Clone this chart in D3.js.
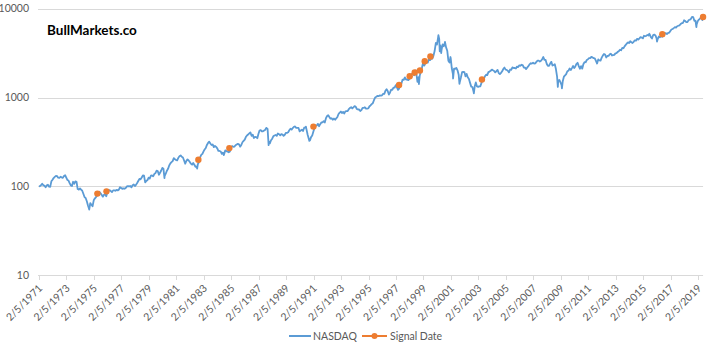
<!DOCTYPE html>
<html><head><meta charset="utf-8">
<script src="https://cdn.jsdelivr.net/npm/d3@7"></script>
<style>body{margin:0;background:#fff} text{font-family:Lato,"Open Sans",sans-serif}</style>
</head><body><svg id="c" width="720" height="346"></svg>
<script>
// ---- data ----
const years = d3.range(1971, 2020);
// NASDAQ Composite approximate month-end closes (Jan..Dec), read/estimated
const monthlyCloses = [
  [null,100.6,103.5,107.1,103.5,101.9,98.0,103.0,104.5,99.4,99.0,114.1],
  [118.9,124.3,128.1,131.3,130.5,125.5,124.6,128.5,126.6,124.9,131.3,133.7],
  [125.9,118.4,116.4,108.9,102.6,100.9,112.8,107.2,113.8,112.6,93.5,92.2],
  [95.0,92.3,89.5,82.8,75.9,74.1,68.0,60.9,55.7,64.9,62.3,59.8],
  [69.8,73.0,75.7,79.0,83.1,87.0,83.8,80.4,76.7,80.5,81.8,77.6],
  [87.1,90.3,90.6,88.7,86.3,90.3,90.4,89.4,91.3,90.3,92.0,97.9],
  [96.0,94.0,95.2,94.1,96.0,100.1,101.0,100.0,101.2,97.5,103.1,105.1],
  [101.0,104.1,109.2,115.2,121.8,120.3,126.3,133.0,132.1,111.1,115.2,117.9],
  [125.8,122.3,132.0,133.0,130.0,137.9,141.3,150.4,149.0,135.5,142.3,151.1],
  [161.8,158.0,131.0,139.0,150.4,157.8,171.8,181.5,187.8,192.8,208.2,202.3],
  [197.8,197.0,210.2,218.3,223.5,215.8,211.6,196.0,180.0,193.8,201.4,195.8],
  [188.4,180.4,175.6,183.6,175.3,166.4,167.4,177.7,187.7,212.6,226.3,232.4],
  [248.3,260.7,270.8,293.1,308.7,318.7,303.9,292.4,296.6,277.1,286.1,278.6],
  [268.4,250.8,250.8,247.4,232.8,239.7,230.8,254.6,249.9,247.0,242.5,247.4],
  [278.7,284.2,279.2,280.6,290.8,296.2,301.3,297.7,280.3,292.5,314.0,324.9],
  [335.8,359.5,374.7,383.2,394.9,405.5,371.3,382.9,350.7,360.8,359.6,348.8],
  [392.1,424.9,430.1,417.8,416.5,424.7,434.9,454.5,444.3,323.3,305.2,330.5],
  [344.7,366.9,374.6,379.2,370.3,394.7,387.3,376.6,387.7,382.5,371.5,381.4],
  [401.3,399.7,406.7,428.2,446.2,435.3,453.8,469.3,472.9,455.6,456.1,454.8],
  [415.8,425.8,435.5,420.1,458.0,462.3,438.2,381.2,344.5,329.8,359.1,373.8],
  [414.2,453.1,482.3,484.7,506.1,475.9,502.0,525.7,526.9,542.9,523.9,586.3],
  [620.2,633.5,603.8,578.7,585.3,563.6,580.8,563.1,583.3,605.2,652.7,676.9],
  [696.3,670.8,690.1,661.4,700.5,703.9,704.7,742.8,762.8,779.3,754.4,776.8],
  [800.5,792.5,743.5,733.8,735.2,706.0,722.2,765.6,764.3,777.5,750.3,752.0],
  [755.2,793.7,817.2,843.9,864.6,933.5,1001.2,1020.1,1043.5,1036.1,1059.2,1052.1],
  [1059.8,1100.1,1101.4,1190.5,1243.4,1185.0,1080.6,1141.5,1226.9,1221.5,1292.6,1291.0],
  [1379.9,1309.0,1221.7,1260.8,1400.3,1442.1,1593.8,1587.3,1685.7,1593.6,1600.6,1570.4],
  [1619.4,1770.5,1835.7,1868.4,1778.9,1894.7,1872.4,1499.3,1693.8,1771.4,1949.5,2192.7],
  [2505.9,2288.0,2461.4,2542.9,2470.5,2686.1,2638.5,2739.4,2746.2,2966.4,3336.2,4069.3],
  [3940.4,4696.7,4572.8,3860.7,3400.9,3966.1,3766.9,4206.4,3672.8,3369.6,2597.9,2470.5],
  [2772.7,2151.8,1840.3,2116.2,2110.5,2160.5,2027.1,1805.4,1498.8,1690.2,1930.6,1950.4],
  [1934.0,1731.5,1845.4,1688.2,1615.7,1463.2,1328.3,1314.9,1172.1,1329.8,1478.8,1335.5],
  [1320.9,1337.5,1341.2,1464.3,1595.9,1622.8,1735.0,1810.5,1786.9,1932.2,1960.3,2003.4],
  [2066.2,2029.8,1994.2,1920.2,1986.7,2047.8,1887.4,1838.1,1896.8,1974.9,2096.8,2175.4],
  [2062.4,2051.7,1999.2,1921.7,2068.2,2057.0,2184.8,2152.1,2151.7,2120.3,2232.8,2205.3],
  [2305.8,2281.4,2339.8,2322.6,2178.9,2172.1,2091.5,2183.8,2258.4,2366.7,2431.8,2415.3],
  [2463.9,2416.2,2421.6,2525.1,2604.5,2603.2,2546.3,2596.4,2701.5,2859.1,2660.9,2652.3],
  [2389.9,2271.5,2279.1,2412.8,2522.7,2292.9,2325.6,2367.5,2091.9,1720.9,1535.6,1577.0],
  [1476.4,1377.8,1528.6,1717.3,1774.3,1835.0,1979.0,2009.1,2122.4,2045.1,2144.6,2269.2],
  [2147.4,2238.3,2398.0,2461.2,2257.0,2109.2,2254.7,2114.0,2368.6,2507.4,2498.2,2652.9],
  [2700.1,2782.3,2781.1,2873.5,2835.3,2773.5,2756.4,2579.5,2415.4,2684.4,2620.3,2605.2],
  [2813.8,2966.9,3091.6,3046.4,2827.3,2935.1,2939.5,3066.9,3116.2,2977.2,3010.2,3019.5],
  [3142.1,3160.2,3267.5,3328.8,3455.9,3403.3,3626.4,3589.9,3771.5,3919.7,4059.9,4176.6],
  [4103.9,4308.1,4198.99,4114.6,4242.6,4408.2,4369.8,4580.3,4493.4,4630.7,4791.6,4736.1],
  [4635.2,4963.5,4900.9,4941.4,5070.0,4986.9,5128.3,4776.5,4620.2,5053.8,5108.7,5007.4],
  [4614.0,4558.0,4869.9,4775.4,4948.1,4843.0,5162.1,5213.2,5312.0,5189.1,5323.7,5383.1],
  [5614.8,5825.4,5911.7,6047.6,6198.5,6140.4,6348.1,6428.7,6495.96,6727.7,6873.97,6903.4],
  [7411.5,7273.0,7063.4,7066.3,7442.1,7510.3,7671.8,8109.5,8046.4,7305.9,7330.5,6635.3],
  [7281.7,7532.5,7729.3,8095.4,7453.2,null,null,null,null,null,null,null]
];
// intra-month extremes and endpoints (date, value)
const extraDates = ["1971-02-05","1974-10-03","1980-03-27","1982-08-13","1984-07-24","1987-08-26","1987-10-28","1990-07-16","1990-10-16","1998-07-20","1998-10-08","2000-01-03","2000-03-10","2000-04-14","2000-05-23","2000-09-01","2001-01-24","2001-04-04","2001-09-21","2002-10-09","2007-10-31","2008-11-20","2009-03-09","2015-07-20","2016-02-11","2018-08-29","2018-12-24","2019-05-03","2019-06-20"];
const extraValues = [100.0,54.9,124.1,159.1,225.3,455.8,291.9,469.6,325.4,2014.3,1419.1,4131.2,5048.6,3321.3,3164.6,4234.3,2859.2,1638.8,1423.2,1114.1,2859.1,1316.1,1268.6,5218.9,4266.8,8109.7,6192.9,8164.0,8051.3];
// signal dates
const signalDates = ["1975-05-08","1976-01-05","1982-09-15","1984-12-17","1991-02-01","1997-04-28","1998-02-05","1998-06-18","1998-11-05","1999-03-12","1999-08-10","2003-05-12","2016-07-01","2019-06-20"];
const signalValues = [83,88,200,270,471,1387,1738,1914,2014,2565,2897,1596,5174,8051];
const xTickLabels = d3.range(1971, 2020, 2).map(y => `2/5/${y}`);
const yTickValues = [10, 100, 1000, 10000];
const seriesNames = ["NASDAQ", "Signal Date"];
const titleText = "BullMarkets.co";

// ---- build ----
const parse = d3.utcParse("%Y-%m-%d");
let series = [];
monthlyCloses.forEach((row, i) => row.forEach((v, m) => {
  if (v != null) series.push({date: new Date(Date.UTC(years[i], m + 1, 0)), value: v});
}));
extraDates.forEach((d, i) => series.push({date: parse(d), value: extraValues[i]}));
series.sort((a, b) => a.date - b.date);
const signals = signalDates.map((d, i) => ({date: parse(d), value: signalValues[i]}));

const svg = d3.select("#c");
const x = d3.scaleUtc().domain([new Date(Date.UTC(1971,1,5)), new Date(Date.UTC(2019,1,5))]).range([39, 698]);
const y = d3.scaleLog().domain([10, 10000]).range([275.3, 8.7]);
const xRight = x(series[series.length - 1].date);

// gridlines
svg.append("g").selectAll("line").data(yTickValues).join("line")
  .attr("x1", 38).attr("x2", xRight).attr("y1", d => Math.round(y(d)) + 0.5).attr("y2", d => Math.round(y(d)) + 0.5)
  .attr("stroke", "#d9d9d9").attr("stroke-width", 1);

// y labels
svg.append("g").selectAll("text").data(yTickValues).join("text")
  .attr("x", 29).attr("y", d => y(d)).attr("dy", "0.35em").attr("text-anchor", "end")
  .attr("font-size", 10.5).attr("fill", "#595959").text(d => d);

// x axis ticks + labels
const tickDates = xTickLabels.map((t, i) => new Date(Date.UTC(1971 + 2 * i, 1, 5)));
svg.append("g").selectAll("line").data(tickDates).join("line")
  .attr("x1", d => Math.round(x(d)) + 0.5).attr("x2", d => Math.round(x(d)) + 0.5)
  .attr("y1", 275).attr("y2", 280).attr("stroke", "#d9d9d9");
svg.append("g").selectAll("text").data(tickDates).join("text")
  .attr("transform", d => `translate(${x(d) + 4},${289}) rotate(-45)`)
  .attr("text-anchor", "end").attr("font-size", 10.5).attr("fill", "#595959")
  .text((d, i) => xTickLabels[i]);

// line
const line = d3.line().x(d => x(d.date)).y(d => y(d.value));
svg.append("path").datum(series).attr("d", line).attr("fill", "none")
  .attr("stroke", "#5b9bd5").attr("stroke-width", 1.8).attr("stroke-linejoin", "round");

// signals
svg.append("g").selectAll("circle").data(signals).join("circle")
  .attr("cx", d => x(d.date)).attr("cy", d => y(d.value)).attr("r", 3.2).attr("fill", "#ed7d31");

// title
svg.append("text").attr("x", 47).attr("y", 35).attr("font-size", 13.5).attr("font-weight", "bold")
  .attr("fill", "#000").text(titleText);

// legend
const lg = svg.append("g");
lg.append("line").attr("x1", 289).attr("x2", 311).attr("y1", 336).attr("y2", 336).attr("stroke", "#5b9bd5").attr("stroke-width", 2);
lg.append("text").attr("x", 313).attr("y", 336).attr("dy", "0.35em").attr("font-size", 10.5).attr("fill", "#595959").text(seriesNames[0]);
lg.append("line").attr("x1", 362).attr("x2", 387).attr("y1", 336).attr("y2", 336).attr("stroke", "#ed7d31").attr("stroke-width", 2);
lg.append("circle").attr("cx", 374.5).attr("cy", 336).attr("r", 3).attr("fill", "#ed7d31");
lg.append("text").attr("x", 390).attr("y", 336).attr("dy", "0.35em").attr("font-size", 10.5).attr("fill", "#595959").text(seriesNames[1]);
</script></body></html>
